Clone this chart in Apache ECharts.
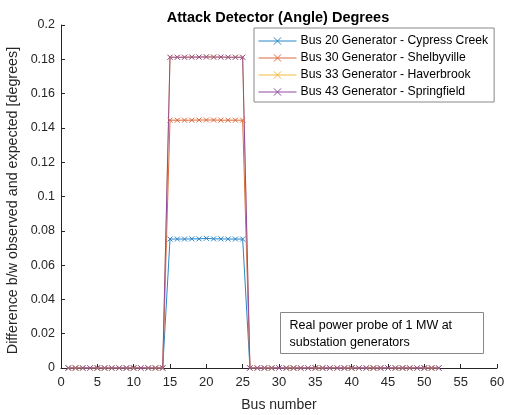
<!DOCTYPE html>
<html>
<head>
<meta charset="utf-8">
<script src="https://cdn.jsdelivr.net/npm/echarts@6/dist/echarts.min.js"></script>
<style>html,body{margin:0;padding:0;background:#fff;}#c{width:505px;height:415px;}</style>
</head>
<body>
<div id="c"></div>
<script>
// Bus numbers 1..52
const buses = [1,2,3,4,5,6,7,8,9,10,11,12,13,14,15,16,17,18,19,20,21,22,23,24,25,26,27,28,29,30,31,32,33,34,35,36,37,38,39,40,41,42,43,44,45,46,47,48,49,50,51,52];
const seriesNames = ["Bus 20 Generator - Cypress Creek","Bus 30 Generator - Shelbyville","Bus 33 Generator - Haverbrook","Bus 43 Generator - Springfield"];
const zeros14 = [0,0,0,0,0,0,0,0,0,0,0,0,0,0];
const zeros27 = [0,0,0,0,0,0,0,0,0,0,0,0,0,0,0,0,0,0,0,0,0,0,0,0,0,0,0];
const bus20 = zeros14.concat([0.0752,0.0752,0.0752,0.0753,0.0753,0.0756,0.0753,0.0753,0.0752,0.0752,0.0752]).concat(zeros27);
const bus30 = zeros14.concat([0.1445,0.1445,0.1445,0.1445,0.1446,0.1446,0.1446,0.1445,0.1445,0.1445,0.1445]).concat(zeros27);
const bus33 = zeros14.concat([0.1812,0.1812,0.1812,0.1813,0.1813,0.1814,0.1813,0.1813,0.1812,0.1812,0.1812]).concat(zeros27);
const bus43 = zeros14.concat([0.1812,0.1812,0.1812,0.1813,0.1813,0.1814,0.1813,0.1813,0.1812,0.1812,0.1812]).concat(zeros27);
const xTicks = [0,5,10,15,20,25,30,35,40,45,50,55,60];
const yTicks = [0,0.02,0.04,0.06,0.08,0.1,0.12,0.14,0.16,0.18,0.2];
const values = [bus20, bus30, bus33, bus43];
const colors = ["#2a86c8","#dc6a3c","#eebb40","#9149a0"];

const FONT = "Liberation Sans, Arial, sans-serif";
const xSym = 'path://M0,0L10,10M10,0L0,10';

const chart = echarts.init(document.getElementById('c'), null, {renderer:'canvas'});
const series = values.map((v,i)=>({
  name: seriesNames[i],
  type: 'line',
  data: buses.map((b,j)=>[b, v[j]]),
  symbol: xSym,
  symbolSize: 5,
  showAllSymbol: true,
  animation: false,
  lineStyle: {color: colors[i], width: 1},
  itemStyle: {color: colors[i], borderColor: colors[i], borderWidth: 1},
  emphasis: {disabled: true}
}));

chart.setOption({
  animation: false,
  color: colors,
  title: {
    text: 'Attack Detector (Angle) Degrees',
    left: 273, top: 5, textAlign: 'center',
    textStyle: {fontFamily: FONT, fontSize: 14.5, fontWeight: 'bold', color: '#000'}
  },
  grid: {left: 61, right: 8, top: 25, bottom: 47, containLabel: false, outerBoundsMode: 'none'},
  legend: {
    orient: 'vertical',
    left: 254, top: 28,
    width: 238,
    padding: [6, 6, 3, 4],
    itemGap: 3,
    itemWidth: 38, itemHeight: 9,
    borderColor: '#888', borderWidth: 1,
    backgroundColor: '#fff',
    lineStyle: {width: 1},
    itemStyle: {borderWidth: 1},
    textStyle: {fontFamily: FONT, fontSize: 12.2, color: '#000', padding: [0,0,0,-1], lineHeight: 14},
    data: seriesNames
  },
  xAxis: {
    type: 'value', min: 0, max: 60, interval: 5,
    name: 'Bus number', nameLocation: 'middle', nameGap: 30,
    nameTextStyle: {fontFamily: FONT, fontSize: 14, color: '#262626'},
    axisLine: {show: true, onZero: false, lineStyle: {color: '#262626', width: 1}},
    axisTick: {show: true, inside: true, length: 4, lineStyle: {color: '#262626'}},
    axisLabel: {fontFamily: FONT, fontSize: 13, color: '#262626', margin: 8},
    splitLine: {show: false}
  },
  yAxis: {
    type: 'value', min: 0, max: 0.2, interval: 0.02,
    name: 'Difference b/w observed and expected [degrees]', nameLocation: 'middle', nameGap: 41,
    nameTextStyle: {fontFamily: FONT, fontSize: 14.3, color: '#262626', padding: [0, 8, 0, 0]},
    axisLine: {show: true, lineStyle: {color: '#262626', width: 1}},
    axisTick: {show: true, inside: true, length: 4, lineStyle: {color: '#262626'}},
    axisLabel: {fontFamily: FONT, fontSize: 12.5, color: '#262626', margin: 6,
      formatter: v => String(parseFloat(v.toFixed(2)))},
    splitLine: {show: false}
  },
  graphic: [{
    type: 'group', left: 280, top: 312,
    children: [
      {type: 'rect', shape: {x: 0, y: 0, width: 203, height: 41},
       style: {fill: '#fff', stroke: '#888', lineWidth: 1}},
      {type: 'text', x: 9, y: 5,
       style: {text: 'Real power probe of 1 MW at\nsubstation generators', font: '12.5px Liberation Sans, Arial, sans-serif',
         fill: '#000', lineHeight: 17}}
    ]
  }],
  series: series
});
</script>
</body>
</html>
